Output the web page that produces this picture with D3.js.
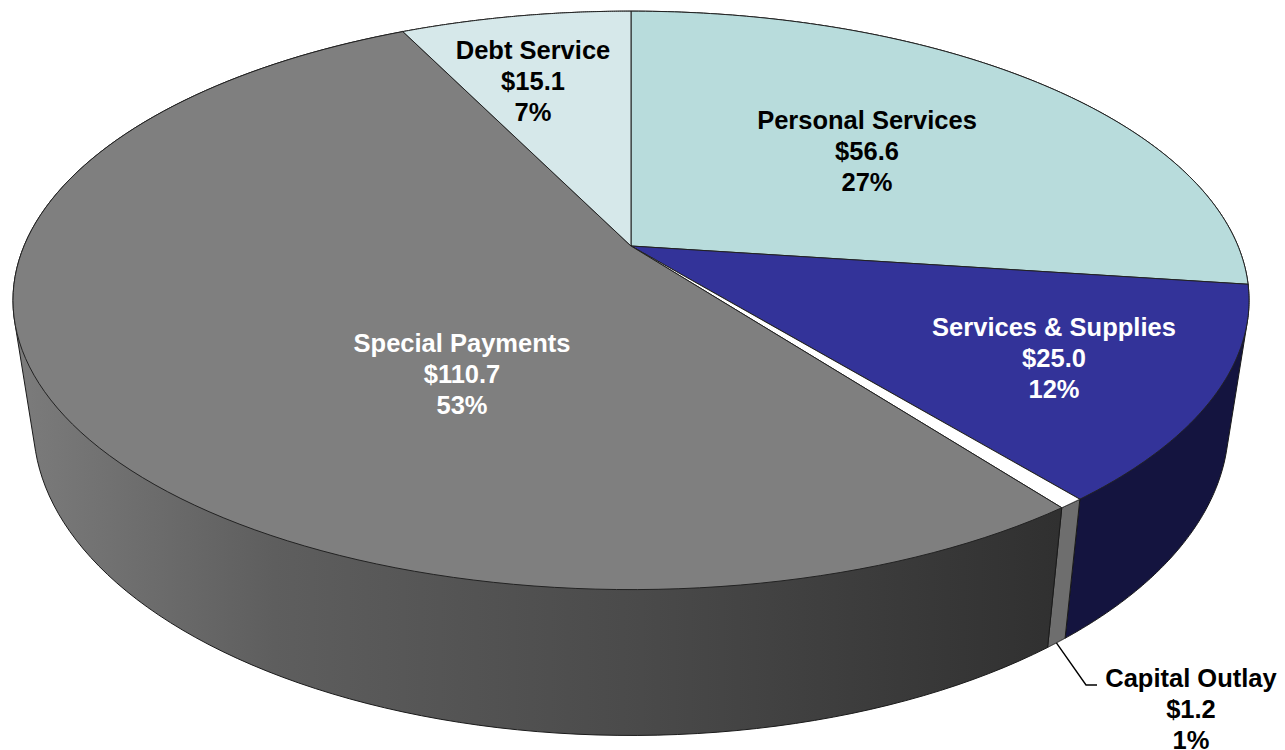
<!DOCTYPE html>
<html><head><meta charset="utf-8">
<script src="https://d3js.org/d3.v7.min.js"></script>
<style>html,body{margin:0;padding:0;background:#fff;overflow:hidden}svg{display:block}
text{font-family:"Liberation Sans",Arial,sans-serif;font-weight:700;font-size:25.5px;text-anchor:middle}</style>
</head><body><svg id="c" width="1285" height="750"></svg>
<script>
const categories = ["Personal Services","Services & Supplies","Capital Outlay","Special Payments","Debt Service"];
const amounts = [56.6,25.0,1.2,110.7,15.1];
const amountLabels = ["$56.6","$25.0","$1.2","$110.7","$15.1"];
const percentLabels = ["27%","12%","1%","53%","7%"];
const topColors = ["#b8dcdc","#333399","#ffffff","#7f7f7f","#d6e8ea"];
const wallColors = ["#8aa5a5","#14143f","#6e6e6e","url(#wallGrad)","#a0aeb0"];
const labelCenters = [[867,129],[1054,336],[1191,687],[462,352],[533,59]];
const labelColors = ["#000","#fff","#000","#fff","#000"];
const lineGap = 31;

const svg = d3.select("#c");
const persp = .188;
// top and bottom rims of the cylinder: perspective-divided unit circle through linear scales
const rim = (xr, yr) => {
  const sx = d3.scaleLinear().domain([-1,1]).range(xr);
  const sy = d3.scaleLinear().domain([-1,1]).range(yr);
  return a => { const u=Math.sin(a), v=-Math.cos(a), w=1-persp*v; return [sx(u/w), sy(v/w)]; };
};
const topRim = rim([24,1238],[-33,525]);
const botRim = rim([44,1218],[66,666]);
const arcs = d3.pie().sort(null).value(d=>d)(amounts);
const sample = (a0,a1,f) => d3.range(0,121).map(i=>f(a0+(a1-a0)*i/120));
const line = d3.line();

const defs = svg.append("defs");
const grad = defs.append("linearGradient").attr("id","wallGrad").attr("gradientUnits","userSpaceOnUse")
  .attr("x1",13).attr("x2",1060).attr("y1",0).attr("y2",0);
[[0,"#7c7c7c"],[.25,"#5e5e5e"],[.6,"#4a4a4a"],[1,"#303030"]].forEach(s=>grad.append("stop").attr("offset",s[0]).attr("stop-color",s[1]));

// walls
svg.append("g").selectAll("path").data(arcs).join("path")
  .attr("d",d=>{
    const pts = sample(d.startAngle,d.endAngle,topRim).concat(sample(d.startAngle,d.endAngle,botRim));
    return line(d3.polygonHull(pts))+"Z";
  })
  .attr("fill",(d,i)=>wallColors[i]).attr("stroke","#1a1a1a").attr("stroke-width",1).attr("stroke-linejoin","round");

// top faces
const apex = topRim.length ? [d3.scaleLinear().domain([-1,1]).range([24,1238])(0), d3.scaleLinear().domain([-1,1]).range([-33,525])(0)] : null;
svg.append("g").selectAll("path").data(arcs).join("path")
  .attr("d",d=>line([apex].concat(sample(d.startAngle,d.endAngle,topRim)))+"Z")
  .attr("fill",(d,i)=>topColors[i]).attr("stroke","#222").attr("stroke-width",1).attr("stroke-linejoin","round");

// leader for Capital Outlay
const cap = arcs[2];
const capMid = (cap.startAngle+cap.endAngle)/2;
const lc = labelCenters[2];
svg.append("path").attr("fill","none").attr("stroke","#000").attr("stroke-width",1.4)
  .attr("d",line([botRim(capMid),[lc[0]-105,lc[1]-2],[lc[0]-94,lc[1]-2]]));

// labels
const g = svg.append("g");
categories.forEach((c,i)=>{
  [c,amountLabels[i],percentLabels[i]].forEach((t,j)=>{
    g.append("text").attr("x",labelCenters[i][0]).attr("y",labelCenters[i][1]+j*lineGap)
      .attr("fill",labelColors[i]).text(t);
  });
});
</script></body></html>
